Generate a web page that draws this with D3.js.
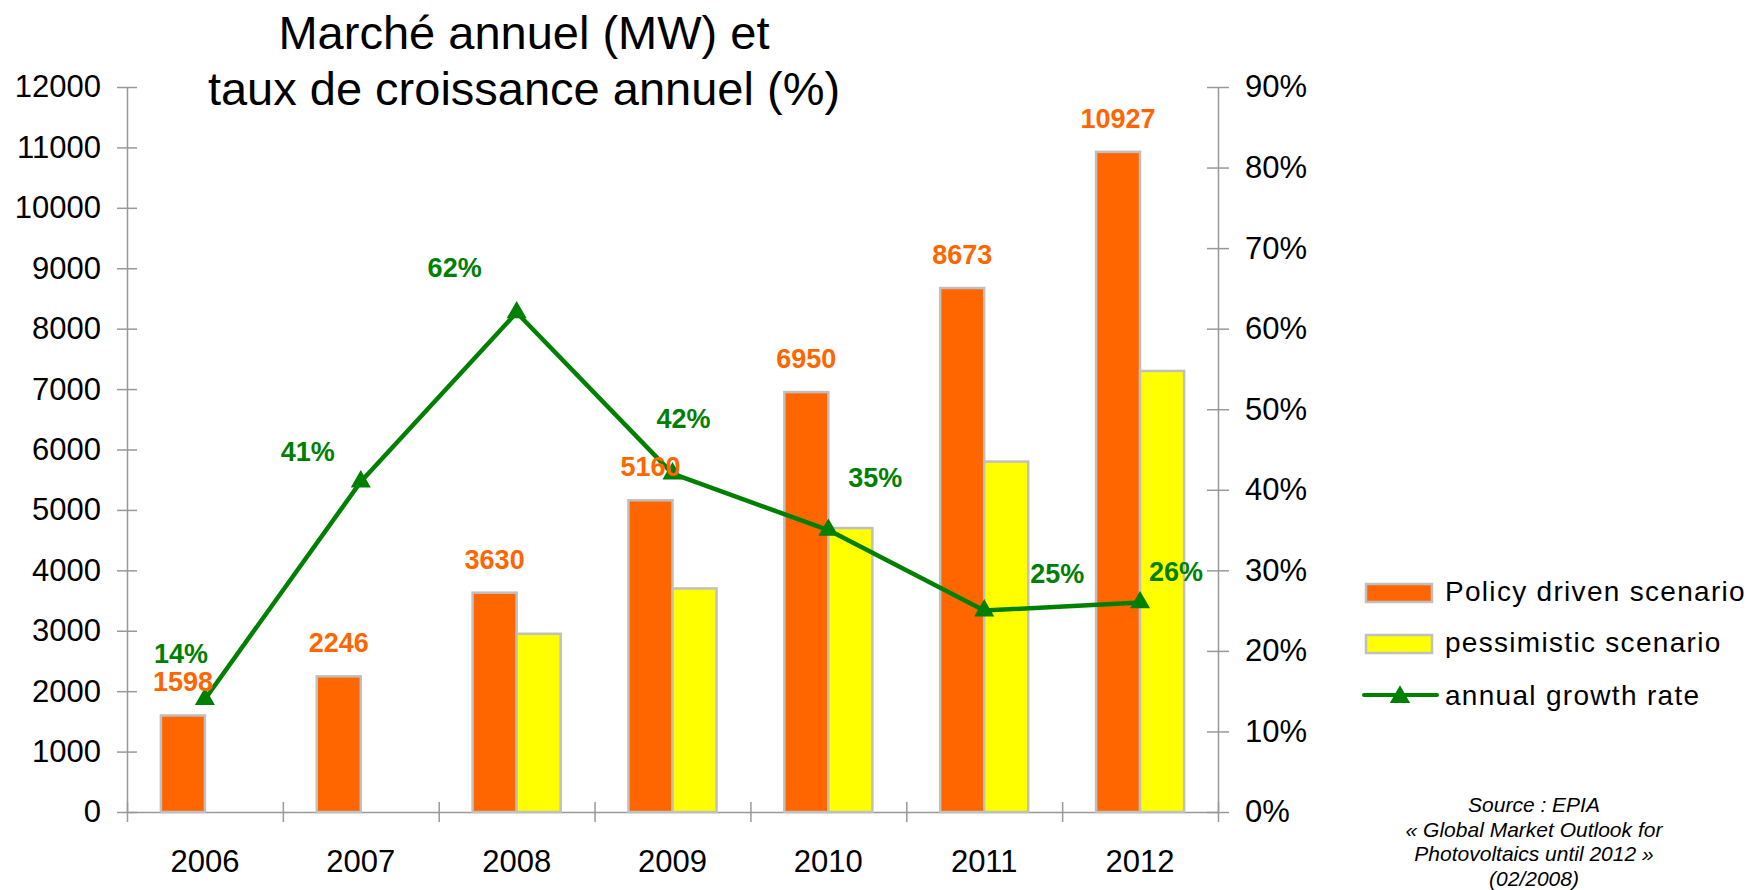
<!DOCTYPE html>
<html lang="fr">
<head>
<meta charset="UTF-8">
<title>Marché annuel (MW) et taux de croissance annuel (%)</title>
<script src="https://d3js.org/d3.v7.min.js"></script>
<style>
    body{
        margin: 0;
        background: #fff;
    }
    svg text{
        font-family: "Liberation Sans", Arial, sans-serif;
    }
    .axis path,
    .axis line{
        fill: none;
        stroke: #999;
        stroke-width: 1.5;
    }
    .axis text{
        font-size: 31px;
        fill: #000;
    }
    .bar{
        stroke: #c0c0c0;
        stroke-width: 2.5;
    }
</style>
</head>
<body>
<script>
    var width = 1764;
    var height = 890;

    // data
    var years = ["2006", "2007", "2008", "2009", "2010", "2011", "2012"];
    var policy = [1598, 2246, 3630, 5160, 6950, 8673, 10927];
    var pessimistic = [null, null, 2950, 3700, 4700, 5800, 7300];
    var growth = [14, 41, 62, 42, 35, 25, 26];
    var leftTicks = [0, 1000, 2000, 3000, 4000, 5000, 6000, 7000, 8000, 9000, 10000, 11000, 12000];
    var rightTicks = [0, 10, 20, 30, 40, 50, 60, 70, 80, 90];
    var seriesNames = ["Policy driven scenario", "pessimistic scenario", "annual growth rate"];
    var titleLines = ["Marché annuel (MW) et", "taux de croissance annuel (%)"];
    var sourceLines = ["Source : EPIA", "« Global Market Outlook for", "Photovoltaics until 2012 »", "(02/2008)"];

    // label placement for the growth values (dx, dy from the point)
    var growthLabelOffset = [[-24, -36], [-53, -21], [-62, -36], [11, -46], [47, -43], [73, -28], [36, -22]];

    var colors = {policy: "#ff6600", pessimistic: "#ffff00", growth: "#008000"};

    var plotLeft = 127, plotRight = 1218, plotTop = 87, plotBottom = 812;

    var svg = d3.select("body").append("svg")
        .attr("width", width)
        .attr("height", height);

    // scales
    var x = d3.scaleBand().domain(years).range([plotLeft, plotRight]).padding(0);
    var x1 = d3.scaleBand().domain(["policy", "pessimistic"])
        .range([0, x.bandwidth()]).paddingInner(0).paddingOuter(0.77);
    var y = d3.scaleLinear().domain([0, 12000]).range([plotBottom, plotTop]);
    var yR = d3.scaleLinear().domain([0, 90]).range([plotBottom, plotTop]);
    var xBound = d3.scaleLinear().domain([0, years.length]).range([plotLeft, plotRight]);

    // title
    svg.append("g").selectAll("text")
        .data(titleLines).enter()
        .append("text")
        .attr("x", 524)
        .attr("y", function(d, i) { return 49 + i * 56; })
        .attr("text-anchor", "middle")
        .attr("font-size", "47px")
        .text(function(d) { return d; });

    // axes
    var gx = svg.append("g").attr("class", "axis")
        .attr("transform", "translate(0," + plotBottom + ")")
        .call(d3.axisBottom(xBound).tickValues(d3.range(years.length + 1)).tickFormat("").tickSize(10).tickSizeOuter(0));
    gx.selectAll(".tick line").attr("y1", -10);

    svg.append("g").attr("class", "axis")
        .attr("transform", "translate(0," + plotBottom + ")")
        .call(d3.axisBottom(x).tickSize(0).tickPadding(38))
        .call(function(g) { g.select(".domain").remove(); });

    var gy = svg.append("g").attr("class", "axis")
        .attr("transform", "translate(" + plotLeft + ",0)")
        .call(d3.axisLeft(y).tickValues(leftTicks).tickFormat(d3.format("d")).tickSize(10).tickPadding(16).tickSizeOuter(0));
    gy.selectAll(".tick line").attr("x1", 10);

    var gyR = svg.append("g").attr("class", "axis")
        .attr("transform", "translate(" + plotRight + ",0)")
        .call(d3.axisRight(yR).tickValues(rightTicks).tickFormat(function(d) { return d + "%"; }).tickSize(11).tickPadding(16).tickSizeOuter(0));
    gyR.selectAll(".tick line").attr("x1", -11);

    // bars
    var barData = [];
    years.forEach(function(yr, i) {
        barData.push({year: yr, key: "policy", value: policy[i]});
        if (pessimistic[i] != null) barData.push({year: yr, key: "pessimistic", value: pessimistic[i]});
    });

    svg.append("g").selectAll("rect")
        .data(barData).enter()
        .append("rect").attr("class", "bar")
        .attr("x", function(d) { return x(d.year) + x1(d.key); })
        .attr("width", x1.bandwidth())
        .attr("y", function(d) { return y(d.value); })
        .attr("height", function(d) { return plotBottom - y(d.value); })
        .attr("fill", function(d) { return colors[d.key]; });

    // growth line
    var cx = function(i) { return x(years[i]) + x.bandwidth() / 2; };
    var line = d3.line()
        .x(function(d, i) { return cx(i); })
        .y(function(d) { return yR(d); });

    svg.append("path")
        .datum(growth)
        .attr("d", line)
        .attr("fill", "none")
        .attr("stroke", colors.growth)
        .attr("stroke-width", 4.5)
        .attr("stroke-linejoin", "round");

    var tri = d3.symbol().type(d3.symbolTriangle).size(175);
    svg.append("g").selectAll("path")
        .data(growth).enter()
        .append("path")
        .attr("d", tri)
        .attr("transform", function(d, i) { return "translate(" + cx(i) + "," + yR(d) + ")"; })
        .attr("fill", colors.growth);

    // value labels
    svg.append("g").selectAll("text")
        .data(policy).enter()
        .append("text")
        .attr("x", function(d, i) { return x(years[i]) + x1("policy") + x1.bandwidth() / 2; })
        .attr("y", function(d) { return y(d) - 24; })
        .attr("text-anchor", "middle")
        .attr("font-size", "27px")
        .attr("font-weight", "bold")
        .attr("fill", colors.policy)
        .text(function(d) { return d; });

    svg.append("g").selectAll("text")
        .data(growth).enter()
        .append("text")
        .attr("x", function(d, i) { return cx(i) + growthLabelOffset[i][0]; })
        .attr("y", function(d, i) { return yR(d) + growthLabelOffset[i][1]; })
        .attr("text-anchor", "middle")
        .attr("font-size", "27px")
        .attr("font-weight", "bold")
        .attr("fill", colors.growth)
        .text(function(d) { return d + "%"; });

    // legend
    var legend = svg.append("g").attr("transform", "translate(1366,593)");
    var rowH = 51;
    var keys = ["policy", "pessimistic"];
    keys.forEach(function(k, i) {
        legend.append("rect")
            .attr("x", 0).attr("y", i * rowH - 9)
            .attr("width", 66).attr("height", 18)
            .attr("fill", colors[k])
            .attr("stroke", "#c0c0c0")
            .attr("stroke-width", 2.5);
    });
    legend.append("line")
        .attr("x1", -2).attr("x2", 71)
        .attr("y1", 2 * rowH).attr("y2", 2 * rowH)
        .attr("stroke", colors.growth)
        .attr("stroke-width", 4)
        .attr("stroke-linecap", "round");
    legend.append("path")
        .attr("d", d3.symbol().type(d3.symbolTriangle).size(180))
        .attr("transform", "translate(34," + (2 * rowH + 2) + ")")
        .attr("fill", colors.growth);
    legend.selectAll(".ltext")
        .data(seriesNames).enter()
        .append("text").attr("class", "ltext")
        .attr("x", 79)
        .attr("y", function(d, i) { return i * rowH + 8 + (i == 2 ? 2 : 0); })
        .attr("font-size", "28px")
        .attr("letter-spacing", "1.3px")
        .text(function(d) { return d; });

    // source
    svg.append("g").selectAll("text")
        .data(sourceLines).enter()
        .append("text")
        .attr("x", 1534)
        .attr("y", function(d, i) { return 812 + i * 24.5; })
        .attr("text-anchor", "middle")
        .attr("font-size", "21px")
        .attr("font-style", "italic")
        .text(function(d) { return d; });
</script>
</body>
</html>
